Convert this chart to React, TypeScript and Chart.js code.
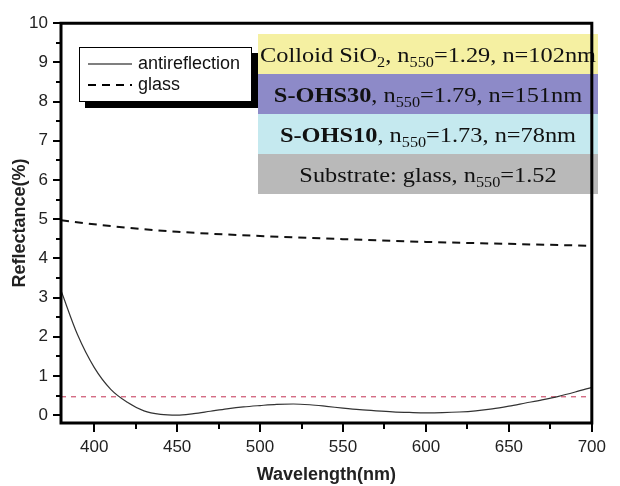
import React, { useEffect, useRef } from 'react';
import { Chart, registerables } from 'chart.js';

Chart.register(...registerables);

// ---- data ----
const wavelengths = [380, 390, 400, 410, 420, 430, 440, 450, 460, 470, 480, 490, 500, 510, 520, 530, 540, 550, 560, 570, 580, 590, 600, 610, 620, 630, 640, 650, 660, 670, 680, 690, 700];
const antireflection = [3.18, 2.05, 1.22, 0.66, 0.33, 0.11, 0.02, 0.0, 0.04, 0.1, 0.16, 0.21, 0.245, 0.275, 0.285, 0.265, 0.225, 0.18, 0.14, 0.11, 0.085, 0.07, 0.06, 0.065, 0.08, 0.11, 0.16, 0.23, 0.31, 0.39, 0.48, 0.59, 0.71];
const glassWavelengths = [380, 400, 420, 450, 500, 550, 600, 650, 700];
const glass = [4.97, 4.87, 4.78, 4.68, 4.57, 4.49, 4.42, 4.37, 4.32];
const referenceLevel = 0.47;
const referenceRange = [380, 700];

const xMajorTicks = [400, 450, 500, 550, 600, 650, 700];
const xMinorTicks = [425, 475, 525, 575, 625, 675];
const yMajorTicks = [0, 1, 2, 3, 4, 5, 6, 7, 8, 9, 10];
const yMinorTicks = [0.5, 1.5, 2.5, 3.5, 4.5, 5.5, 6.5, 7.5, 8.5, 9.5];

const legendLabels = ['antireflection', 'glass'];

type Seg = { t: string; b?: boolean; s?: boolean };
const layerRows: Seg[][] = [
  [{ t: 'Colloid SiO' }, { t: '2', s: true }, { t: ', n' }, { t: '550', s: true }, { t: '=1.29, n=102nm' }],
  [{ t: 'S-OHS30', b: true }, { t: ', n' }, { t: '550', s: true }, { t: '=1.79, n=151nm' }],
  [{ t: 'S-OHS10', b: true }, { t: ', n' }, { t: '550', s: true }, { t: '=1.73, n=78nm' }],
  [{ t: 'Substrate: glass, n' }, { t: '550', s: true }, { t: '=1.52' }],
];
const layerColors = ['#f5f0a2', '#8d8ac8', '#c5e9ef', '#b9b9b9'];

const SANS = '"Liberation Sans", Arial, sans-serif';
const SERIF = '"Liberation Serif", "Times New Roman", serif';

const decorPlugin = {
  id: 'decor',
  afterDatasetsDraw(chart: any) {
    const ctx: CanvasRenderingContext2D = chart.ctx;
    const { left, right, top, bottom } = chart.chartArea;
    const xs = chart.scales.x;
    const ys = chart.scales.y;
    ctx.save();

    // layer stack boxes
    const bx = 258, bw = 340, by = 34, bh = 40;
    const F = 21;
    const fontFor = (seg: Seg) => `${seg.b ? 'bold ' : ''}${seg.s ? Math.round(F * 0.66) : F}px ${SERIF}`;
    const rowWidth = (row: Seg[]) => row.reduce((w, seg) => { ctx.font = fontFor(seg); return w + ctx.measureText(seg.t).width; }, 0);
    const hscale = 336 / rowWidth(layerRows[0]);
    layerRows.forEach((row, i) => {
      const y0 = by + i * bh;
      ctx.fillStyle = layerColors[i];
      ctx.fillRect(bx, y0, bw, bh);
      const w = rowWidth(row) * hscale;
      const cx = bx + bw / 2;
      ctx.save();
      ctx.translate(cx - w / 2, y0 + bh / 2 + 8);
      ctx.scale(hscale, 1);
      let x = 0;
      ctx.fillStyle = '#111';
      ctx.textBaseline = 'alphabetic';
      ctx.textAlign = 'left';
      row.forEach((seg) => {
        ctx.font = fontFor(seg);
        ctx.fillText(seg.t, x, seg.s ? 5 : 0);
        x += ctx.measureText(seg.t).width;
      });
      ctx.restore();
    });

    // legend with shadow
    const lx = 79, ly = 47, lw = 173, lh = 55;
    ctx.fillStyle = '#000';
    ctx.fillRect(lx + 6, ly + 6, lw, lh);
    ctx.fillStyle = '#fff';
    ctx.fillRect(lx, ly, lw, lh);
    ctx.strokeStyle = '#000';
    ctx.lineWidth = 1;
    ctx.strokeRect(lx + 0.5, ly + 0.5, lw - 1, lh - 1);
    legendLabels.forEach((label, i) => {
      const ds = chart.data.datasets[i];
      const yy = ly + 17 + i * 21;
      ctx.beginPath();
      ctx.setLineDash(ds.borderDash || []);
      ctx.strokeStyle = '#000';
      ctx.lineWidth = i === 0 ? 1.2 : 2;
      ctx.moveTo(lx + 9, yy);
      ctx.lineTo(lx + 53, yy);
      ctx.stroke();
      ctx.setLineDash([]);
      ctx.fillStyle = '#111';
      ctx.font = `18px ${SANS}`;
      ctx.textBaseline = 'middle';
      ctx.textAlign = 'left';
      ctx.fillText(label, lx + 59, yy);
    });

    // frame
    ctx.strokeStyle = '#000';
    ctx.lineWidth = 3;
    ctx.beginPath();
    ctx.rect(left, top, right - left, bottom - top);
    ctx.stroke();

    // ticks
    ctx.lineWidth = 2;
    ctx.beginPath();
    yMajorTicks.forEach((v) => { const p = Math.round(ys.getPixelForValue(v)); ctx.moveTo(left, p); ctx.lineTo(left - 8, p); });
    yMinorTicks.forEach((v) => { const p = Math.round(ys.getPixelForValue(v)); ctx.moveTo(left, p); ctx.lineTo(left - 5, p); });
    xMajorTicks.forEach((v) => { const p = Math.round(xs.getPixelForValue(v)); ctx.moveTo(p, bottom); ctx.lineTo(p, bottom + 9); });
    xMinorTicks.forEach((v) => { const p = Math.round(xs.getPixelForValue(v)); ctx.moveTo(p, bottom); ctx.lineTo(p, bottom + 6); });
    ctx.stroke();
    ctx.restore();
  },
};

export default function App() {
  const ref = useRef<HTMLCanvasElement>(null);
  useEffect(() => {
    if (!ref.current) return;
    const chart = new Chart(ref.current, {
      type: 'line',
      data: {
        datasets: [
          {
            label: legendLabels[0],
            data: wavelengths.map((w, i) => ({ x: w, y: antireflection[i] })),
            borderColor: '#333',
            borderWidth: 1.2,
            pointRadius: 0,
            cubicInterpolationMode: 'monotone',
          },
          {
            label: legendLabels[1],
            data: glassWavelengths.map((w, i) => ({ x: w, y: glass[i] })),
            borderColor: '#111',
            borderWidth: 2,
            borderDash: [8, 6],
            pointRadius: 0,
            cubicInterpolationMode: 'monotone',
          },
          {
            label: 'reference',
            data: referenceRange.map((w) => ({ x: w, y: referenceLevel })),
            borderColor: '#d0607a',
            borderWidth: 1.3,
            borderDash: [5, 5],
            pointRadius: 0,
          },
        ],
      },
      options: {
        animation: false,
        responsive: false,
        layout: { padding: { top: 22, right: 17, left: 0, bottom: 0 } },
        plugins: { legend: { display: false }, tooltip: { enabled: false } },
        scales: {
          x: {
            type: 'linear',
            min: 380,
            max: 700,
            grid: { display: false, drawTicks: false },
            border: { display: false },
            afterBuildTicks: (s: any) => { s.ticks = xMajorTicks.map((v) => ({ value: v })); },
            afterFit: (s: any) => { s.height = 63; },
            ticks: { color: '#222', font: { family: SANS, size: 17 }, padding: 14, maxRotation: 0, autoSkip: false },
            title: { display: true, text: 'Wavelength(nm)', color: '#222', font: { family: SANS, size: 18, weight: 'bold' }, padding: { top: 0, bottom: 0 } },
          },
          y: {
            min: -0.2,
            max: 10,
            grid: { display: false, drawTicks: false },
            border: { display: false },
            afterBuildTicks: (s: any) => { s.ticks = yMajorTicks.map((v) => ({ value: v })); },
            afterFit: (s: any) => { s.width = 61; },
            ticks: { color: '#222', font: { family: SANS, size: 17 }, padding: 13, autoSkip: false },
            title: { display: true, text: 'Reflectance(%)', color: '#222', font: { family: SANS, size: 18, weight: 'bold' }, padding: { top: 9, bottom: 0 } },
          },
        },
      },
      plugins: [decorPlugin],
    } as any);
    return () => chart.destroy();
  }, []);
  return (
    <div style={{ position: 'fixed', left: 0, top: 0, width: 620, height: 486, background: '#fff' }}>
      <canvas ref={ref} width={620} height={486} />
    </div>
  );
}
